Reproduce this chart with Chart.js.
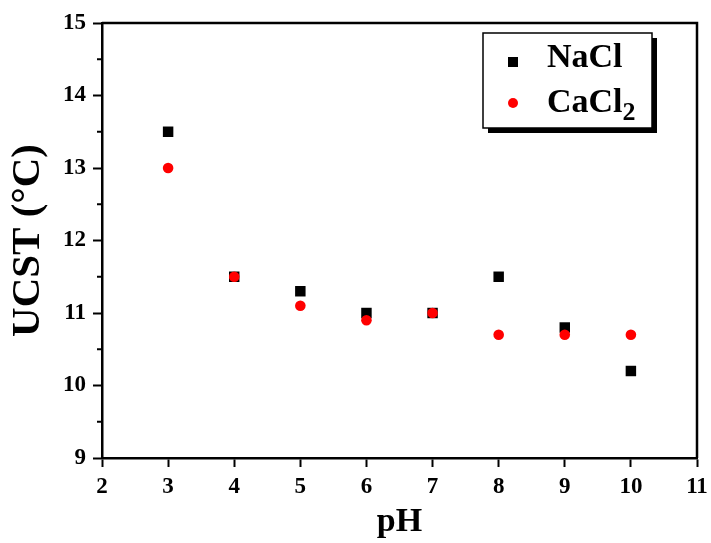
<!DOCTYPE html>
<html lang="en">

<head>
  <meta charset="UTF-8" />
  <title>UCST vs pH</title>
  <script src="https://cdn.jsdelivr.net/npm/chart.js"></script>
  <style>
    html, body { margin: 0; padding: 0; background: #fff; }
    #wrap { width: 711px; height: 543px; }
  </style>
</head>

<body>
  <div id="wrap"><canvas id="myChart" width="711" height="543"></canvas></div>

  <script>
    /* data */
    const phValues = [3, 4, 5, 6, 7, 8, 9, 10];
    const naclUcst = [13.5, 11.5, 11.3, 11.0, 11.0, 11.5, 10.8, 10.2];
    const cacl2Ucst = [13.0, 11.5, 11.1, 10.9, 11.0, 10.7, 10.7, 10.7];
    const seriesNames = ["NaCl", "CaCl2"];
    const xTicks = [2, 3, 4, 5, 6, 7, 8, 9, 10, 11];
    const yTicks = [9, 10, 11, 12, 13, 14, 15];

    const serif = "'Liberation Serif', 'Times New Roman', serif";

    // draws the top/right frame lines and the half-step minor ticks on the y axis
    const framePlugin = {
      id: "frame",
      afterDraw(chart) {
        const { ctx, chartArea: a } = chart;
        const y = chart.scales.y;
        ctx.save();
        ctx.strokeStyle = "#000";
        ctx.lineWidth = 2.5;
        ctx.beginPath();
        ctx.moveTo(a.left, a.top);
        ctx.lineTo(a.right, a.top);
        ctx.lineTo(a.right, a.bottom);
        ctx.stroke();
        ctx.lineWidth = 2;
        for (let i = 0; i < yTicks.length - 1; i++) {
          const py = y.getPixelForValue(yTicks[i] + 0.5);
          ctx.beginPath();
          ctx.moveTo(a.left - 5, py);
          ctx.lineTo(a.left, py);
          ctx.stroke();
        }
        ctx.restore();
      },
    };

    // boxed legend with drop shadow, trailing digits drawn as subscript
    const legendBoxPlugin = {
      id: "legendBox",
      afterDraw(chart) {
        const { ctx } = chart;
        const bx = 483, by = 33, bw = 169, bh = 95;
        ctx.save();
        ctx.fillStyle = "#000";
        ctx.fillRect(bx + 5, by + 5, bw, bh);
        ctx.fillStyle = "#fff";
        ctx.fillRect(bx, by, bw, bh);
        ctx.strokeStyle = "#000";
        ctx.lineWidth = 1.5;
        ctx.strokeRect(bx, by, bw, bh);

        chart.data.datasets.forEach((ds, i) => {
          const markY = by + 29 + i * 41;
          const baseY = by + 34 + i * 45;
          ctx.fillStyle = ds.backgroundColor;
          if (ds.pointStyle === "rect") {
            ctx.fillRect(bx + 25, markY - 5, 10, 10);
          } else {
            ctx.beginPath();
            ctx.arc(bx + 30, markY, 5, 0, Math.PI * 2);
            ctx.fill();
          }
          const m = ds.label.match(/^(.*?)(\d*)$/);
          ctx.fillStyle = "#000";
          ctx.textBaseline = "alphabetic";
          ctx.font = "bold 34px " + serif;
          ctx.fillText(m[1], bx + 64, baseY);
          if (m[2]) {
            const w = ctx.measureText(m[1]).width;
            ctx.font = "bold 26px " + serif;
            ctx.fillText(m[2], bx + 64 + w, baseY + 8);
          }
        });
        ctx.restore();
      },
    };

    const ctx = document.getElementById("myChart").getContext("2d");
    const chart = new Chart(ctx, {
      type: "scatter",
      data: {
        datasets: [
          {
            label: seriesNames[0],
            data: phValues.map((x, i) => ({ x, y: naclUcst[i] })),
            pointStyle: "rect",
            pointRadius: 7.4,
            backgroundColor: "#000",
            borderWidth: 0,
            order: 1,
          },
          {
            label: seriesNames[1],
            data: phValues.map((x, i) => ({ x, y: cacl2Ucst[i] })),
            pointStyle: "circle",
            pointRadius: 5.3,
            backgroundColor: "#ff0000",
            borderWidth: 0,
            order: 0,
          },
        ],
      },
      options: {
        responsive: false,
        animation: false,
        layout: { padding: { top: 23, right: 14, left: 0, bottom: 0 } },
        plugins: {
          legend: { display: false },
          tooltip: { enabled: false },
        },
        scales: {
          x: {
            type: "linear",
            min: xTicks[0],
            max: xTicks[xTicks.length - 1],
            afterBuildTicks: (s) => { s.ticks = xTicks.map((v) => ({ value: v })); },
            afterFit: (s) => {
              s.height = 85;
              // keep the plot edges fixed, the end labels may overhang
              s.paddingLeft = 0;
              s.paddingRight = 0;
            },
            grid: { drawOnChartArea: false, tickLength: 9, tickWidth: 2, tickColor: "#000" },
            border: { color: "#000", width: 2.5 },
            ticks: { color: "#000", padding: 6, font: { family: serif, size: 23, weight: "bold" } },
            title: {
              display: true,
              text: "pH",
              color: "#000",
              font: { family: serif, size: 34, weight: "bold" },
              padding: { top: 0, bottom: 0 },
            },
          },
          y: {
            type: "linear",
            min: yTicks[0],
            max: yTicks[yTicks.length - 1],
            afterBuildTicks: (s) => { s.ticks = yTicks.map((v) => ({ value: v })); },
            afterFit: (s) => {
              s.width = 102;
              s.paddingTop = 0;
              s.paddingBottom = 0;
            },
            grid: { drawOnChartArea: false, tickLength: 9, tickWidth: 2, tickColor: "#000" },
            border: { color: "#000", width: 2.5 },
            ticks: { color: "#000", padding: 7, font: { family: serif, size: 23, weight: "bold" } },
            title: {
              display: true,
              text: "UCST (°C)",
              color: "#000",
              font: { family: serif, size: 41, weight: "bold" },
              padding: { top: 4, bottom: 0 },
            },
          },
        },
      },
      plugins: [framePlugin, legendBoxPlugin],
    });
  </script>
</body>

</html>
